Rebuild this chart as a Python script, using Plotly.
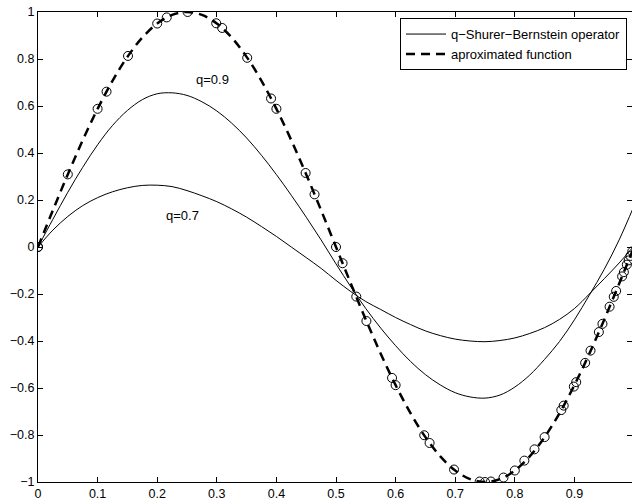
import plotly.graph_objects as go

# ---- data ----
x_grid = [0.000, 0.025, 0.050, 0.075, 0.100, 0.125, 0.150, 0.175, 0.200, 0.225,
          0.250, 0.275, 0.300, 0.325, 0.350, 0.375, 0.400, 0.425, 0.450, 0.475,
          0.500, 0.525, 0.550, 0.575, 0.600, 0.625, 0.650, 0.675, 0.700, 0.725,
          0.750, 0.775, 0.800, 0.825, 0.850, 0.875, 0.900, 0.925, 0.950, 0.975,
          1.000]

# approximated function (dashed)
f_vals = [0.0000, 0.1564, 0.3090, 0.4540, 0.5878, 0.7071, 0.8090, 0.8910, 0.9511, 0.9877,
          1.0000, 0.9877, 0.9511, 0.8910, 0.8090, 0.7071, 0.5878, 0.4540, 0.3090, 0.1564,
          0.0000, -0.1564, -0.3090, -0.4540, -0.5878, -0.7071, -0.8090, -0.8910, -0.9511, -0.9877,
          -1.0000, -0.9877, -0.9511, -0.8910, -0.8090, -0.7071, -0.5878, -0.4540, -0.3090, -0.1564,
          0.0000]

# q-Shurer-Bernstein operator, q = 0.9
op_q09 = [0.000, 0.118, 0.233, 0.339, 0.435, 0.517, 0.581, 0.627, 0.652, 0.656,
          0.645, 0.618, 0.579, 0.527, 0.464, 0.390, 0.308, 0.220, 0.127, 0.030,
          -0.072, -0.170, -0.262, -0.345, -0.420, -0.487, -0.543, -0.587, -0.620, -0.638,
          -0.643, -0.630, -0.596, -0.545, -0.478, -0.402, -0.310, -0.205, -0.095, 0.030,
          0.175]

# q-Shurer-Bernstein operator, q = 0.7
op_q07 = [0.000, 0.072, 0.130, 0.176, 0.210, 0.235, 0.252, 0.262, 0.263, 0.257,
          0.240, 0.218, 0.193, 0.162, 0.127, 0.087, 0.045, 0.000, -0.045, -0.091,
          -0.142, -0.190, -0.232, -0.266, -0.300, -0.330, -0.357, -0.377, -0.392, -0.400,
          -0.403, -0.398, -0.387, -0.368, -0.343, -0.308, -0.262, -0.200, -0.135, -0.068,
          0.005]

# nodes (circles)
node_x = [0.000, 0.000, 0.050, 0.100, 0.115, 0.151, 0.200, 0.216, 0.251, 0.299, 0.309,
          0.351, 0.391, 0.400, 0.449, 0.464, 0.500, 0.511, 0.534, 0.551, 0.594,
          0.600, 0.648, 0.657, 0.698, 0.741, 0.750, 0.760, 0.781, 0.800, 0.816,
          0.833, 0.850, 0.878, 0.882, 0.899, 0.903, 0.918, 0.927, 0.941, 0.947,
          0.959, 0.966, 0.970, 0.980, 0.983, 0.988, 0.991, 0.994, 0.997]
node_y = [0.000, 0.000, 0.309, 0.588, 0.661, 0.813, 0.951, 0.977, 1.000, 0.952, 0.932,
          0.805, 0.632, 0.588, 0.315, 0.224, 0.000, -0.069, -0.211, -0.315, -0.557,
          -0.588, -0.801, -0.834, -0.947, -0.998, -1.000, -0.998, -0.981, -0.951, -0.909,
          -0.861, -0.809, -0.694, -0.675, -0.594, -0.575, -0.493, -0.441, -0.362, -0.327,
          -0.254, -0.212, -0.187, -0.125, -0.107, -0.075, -0.057, -0.038, -0.019]

x_ticks = [0, 0.1, 0.2, 0.3, 0.4, 0.5, 0.6, 0.7, 0.8, 0.9, 1.0]
y_ticks = [-1, -0.8, -0.6, -0.4, -0.2, 0, 0.2, 0.4, 0.6, 0.8, 1]
y_tick_text = ["\u22121", "\u22120.8", "\u22120.6", "\u22120.4", "\u22120.2", "0",
               "0.2", "0.4", "0.6", "0.8", "1"]

labels = ["q=0.9", "q=0.7"]
label_x = [0.2925, 0.242]
label_y = [0.711, 0.136]

FONT = "Liberation Sans, Arial, Helvetica, sans-serif"

fig = go.Figure()

fig.add_trace(go.Scatter(
    x=x_grid, y=op_q09, mode="lines", line=dict(color="black", width=1, shape="spline"),
    name="q\u2212Shurer\u2212Bernstein operator", showlegend=True))
fig.add_trace(go.Scatter(
    x=x_grid, y=op_q07, mode="lines", line=dict(color="black", width=1, shape="spline"),
    name="q=0.7", showlegend=False))
fig.add_trace(go.Scatter(
    x=x_grid, y=f_vals, mode="lines",
    line=dict(color="black", width=2.5, dash="9px,6px", shape="spline"),
    name="aproximated function", showlegend=True))
fig.add_trace(go.Scatter(
    x=node_x, y=node_y, mode="markers",
    marker=dict(symbol="circle-open", size=9, color="black", line=dict(width=1, color="black")),
    showlegend=False))
# dummy trace for right-hand tick marks
fig.add_trace(go.Scatter(x=[None], y=[None], yaxis="y2", showlegend=False, hoverinfo="skip"))

for t, lx, ly in zip(labels, label_x, label_y):
    fig.add_annotation(x=lx, y=ly, text=t, showarrow=False,
                       font=dict(family=FONT, size=13, color="#000000"))

fig.update_layout(
    template="none",
    width=632, height=499,
    margin=dict(l=38, r=0, t=12, b=17, pad=0),
    paper_bgcolor="white", plot_bgcolor="white",
    font=dict(family=FONT, size=12.5, color="#000000"),
    xaxis=dict(range=[0, 0.9966], tickvals=x_ticks, ticktext=[str(v) for v in x_ticks],
               ticks="inside", ticklen=5, tickcolor="black", showline=True, linecolor="black",
               linewidth=1, mirror="ticks", showgrid=False, zeroline=False,
               tickfont=dict(family=FONT, size=12.5, color="#000000")),
    yaxis=dict(range=[-1, 1], tickvals=y_ticks, ticktext=y_tick_text,
               ticks="inside", ticklen=5, tickcolor="black", showline=True, linecolor="black",
               linewidth=1, mirror=False, showgrid=False, zeroline=False,
               tickfont=dict(family=FONT, size=12.5, color="#000000")),
    yaxis2=dict(range=[-1, 1], overlaying="y", side="right", tickvals=y_ticks,
                ticks="inside", ticklen=5, tickcolor="black", showline=False,
                showticklabels=False, showgrid=False, zeroline=False),
    legend=dict(x=0.9916, y=0.987, xanchor="right", yanchor="top",
                bordercolor="black", borderwidth=1, bgcolor="white",
                font=dict(family=FONT, size=13, color="#000000"),
                itemwidth=40, tracegroupgap=0),
)

fig.write_html("out.html")
